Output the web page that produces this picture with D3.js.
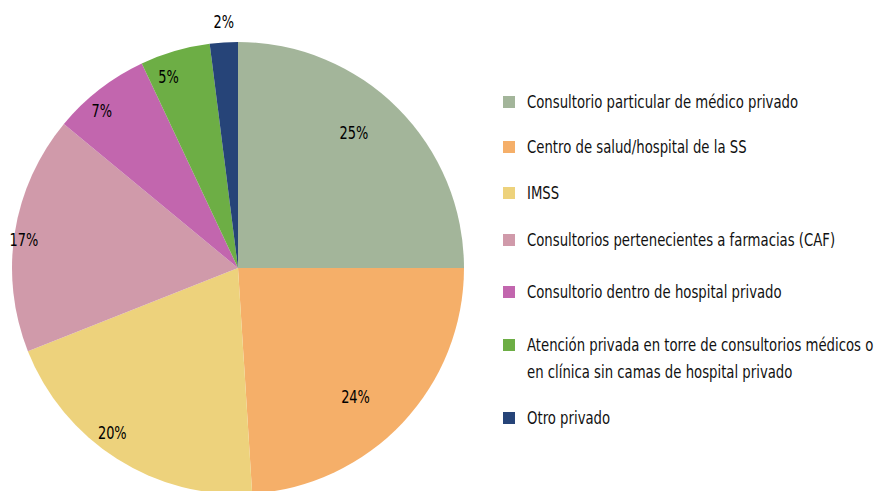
<!DOCTYPE html>
<html>
<head>
<meta charset="utf-8">
<script src="https://cdn.jsdelivr.net/npm/d3@7"></script>
<style>
  body { margin: 0; background: #fff; }
  svg { font-family: "Liberation Sans Narrow", "Arial Narrow", "DejaVu Sans", sans-serif; }
</style>
</head>
<body>
<svg id="mySvg"></svg>
<script>
const width = 879;
const height = 491;

// data
const categories = [
  "Consultorio particular de médico privado",
  "Centro de salud/hospital de la SS",
  "IMSS",
  "Consultorios pertenecientes a farmacias (CAF)",
  "Consultorio dentro de hospital privado",
  "Atención privada en torre de consultorios médicos o|en clínica sin camas de hospital privado",
  "Otro privado"
];
const values = [25, 24, 20, 17, 7, 5, 2];
const valueLabels = ["25%", "24%", "20%", "17%", "7%", "5%", "2%"];
const colors = ["#A3B59A", "#F5AF69", "#EDD27C", "#D09AAA", "#C266AE", "#6DAE45", "#264478"];

const cx = 238, cy = 268, radius = 226;
// label placement: distance (share of radius) and position within slice (0..1)
const labelR = [0.79, 0.77, 0.915, 0.955, 0.92, 0.9, 1.09];
const labelT = [0.45, 0.55, 0.57, 0.475, 0.375, 0.29, 0.54];
// no condensed font installed, so squeeze text horizontally
const squeezeLbl = 0.72;
const squeezeLeg = 0.78;

const svg = d3.select("#mySvg").attr("width", width).attr("height", height);

const g = svg.append("g").attr("transform", `translate(${cx}, ${cy})`);

const pie = d3.pie().sort(null).value((d) => d)(values);

const arc = d3.arc().innerRadius(0).outerRadius(radius);

g.selectAll(".slice")
  .data(pie)
  .enter()
  .append("path")
  .attr("class", "slice")
  .attr("d", arc)
  .attr("fill", (d, i) => colors[i]);

g.selectAll(".lbl")
  .data(pie)
  .enter()
  .append("text")
  .attr("class", "lbl")
  .attr("transform", (d, i) => {
    const a = d.startAngle + (d.endAngle - d.startAngle) * labelT[i];
    const r = radius * labelR[i];
    return `translate(${Math.sin(a) * r}, ${-Math.cos(a) * r}) scale(${squeezeLbl}, 1)`;
  })
  .attr("text-anchor", "middle")
  .attr("dy", "0.35em")
  .attr("font-size", 18)
  .attr("fill", "#000")
  .text((d, i) => valueLabels[i]);

// legend
const legendY = [102, 147, 193, 240, 292, 345, 418];
const legend = svg.append("g");

categories.forEach((c, i) => {
  const row = legend.append("g").attr("transform", `translate(503, ${legendY[i]})`);
  row.append("rect")
    .attr("x", 0).attr("y", -6)
    .attr("width", 12).attr("height", 12)
    .attr("fill", colors[i]);
  const lines = c.split("|");
  lines.forEach((t, j) => {
    row.append("text")
      .attr("transform", `translate(24, ${j * 27}) scale(${squeezeLeg}, 1)`)
      .attr("dy", "0.35em")
      .attr("font-size", 17)
      .attr("fill", "#111")
      .text(t);
  });
});
</script>
</body>
</html>
